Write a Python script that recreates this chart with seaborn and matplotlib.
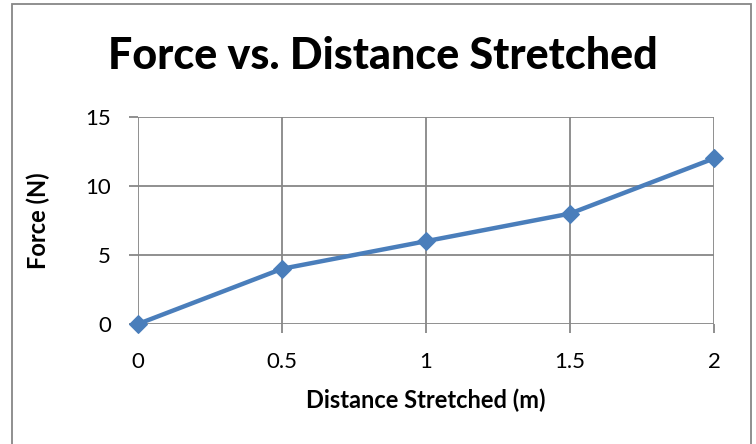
import seaborn as sns
import pandas as pd
import numpy as np
import matplotlib.pyplot as plt
from matplotlib.patches import Rectangle

# data
distance = [0, 0.5, 1, 1.5, 2]
force = [0, 4, 6, 8, 12]
x_ticks = [0, 0.5, 1, 1.5, 2]
x_tick_labels = ["0", "0.5", "1", "1.5", "2"]
y_ticks = [0, 5, 10, 15]

df = pd.DataFrame({"distance": distance, "force": force})

sns.set_theme(style="whitegrid")
plt.rcParams['font.family'] = ['Lato', 'DejaVu Sans']

grid_c = "#878787"
line_c = "#4A7EBB"

fig = plt.figure(figsize=(7.56, 4.44), dpi=100)
ax = fig.add_axes([138 / 756, 1 - 324 / 444, (714 - 138) / 756, (324 - 117) / 444])

sns.lineplot(data=df, x="distance", y="force", ax=ax, color=line_c,
             linewidth=3.2, marker="D", markersize=9, markeredgecolor=line_c)

ax.set_xlim(0, 2)
ax.set_ylim(0, 15)
ax.set_xticks(x_ticks)
ax.set_xticklabels(x_tick_labels)
ax.set_yticks(y_ticks)
ax.grid(True, color=grid_c, linewidth=1.3)
for s in ax.spines.values():
    s.set_visible(False)
ax.tick_params(axis="both", which="both", length=6.5, width=1.3, color=grid_c,
               labelsize=16, labelcolor="black", direction="out",
               bottom=True, left=True)
ax.tick_params(axis="y", pad=13)
ax.tick_params(axis="x", pad=14)
for line in ax.get_lines():
    line.set_clip_on(False)

ax.set_xlabel("Distance Stretched (m)", fontsize=17, fontweight="bold",
              color="black", va="center")
ax.xaxis.set_label_coords(0.5, -(400 - 324) / 207)
ax.set_ylabel("Force (N)", fontsize=17, fontweight="bold", color="black",
              va="center")
ax.yaxis.set_label_coords((38 - 138) / 576, 0.5)
fig.text(383 / 756, 1 - 56 / 444, "Force vs. Distance Stretched",
         ha="center", va="center", fontsize=31, fontweight="black",
         color="black")

# chart frame
fig.patches.append(Rectangle((12 / 756, -0.1), (751 - 12) / 756, 1.1 - 4 / 444,
                             transform=fig.transFigure, fill=False,
                             edgecolor=grid_c, linewidth=1.3))

fig.savefig("out.png", dpi=100)
